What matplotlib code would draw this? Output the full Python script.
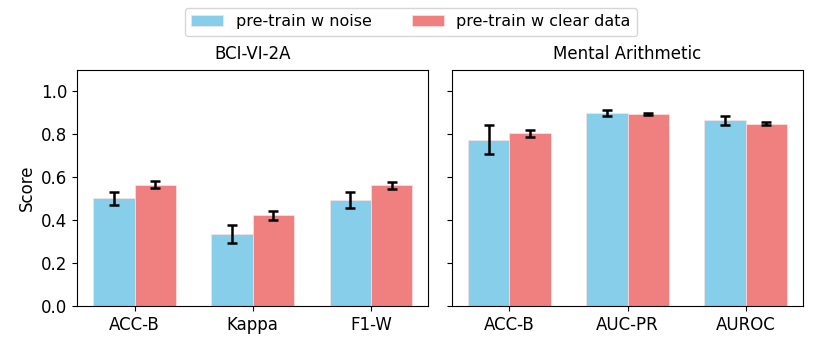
import matplotlib
matplotlib.use("Agg")
from matplotlib import pyplot as plt
import numpy as np

bci_labels = ["ACC-B", "Kappa", "F1-W"]
bci_noise = [0.501, 0.335, 0.493]
bci_noise_err = [0.031, 0.042, 0.038]
bci_clear = [0.566, 0.422, 0.563]
bci_clear_err = [0.015, 0.020, 0.017]

ma_labels = ["ACC-B", "AUC-PR", "AUROC"]
ma_noise = [0.775, 0.900, 0.865]
ma_noise_err = [0.067, 0.015, 0.019]
ma_clear = [0.806, 0.896, 0.850]
ma_clear_err = [0.016, 0.005, 0.008]

plt.rcParams["font.size"] = 12

w = 0.35
fig, axes = plt.subplots(1, 2, figsize=(8.22, 3.52), dpi=100, sharey=True)
fig.subplots_adjust(left=0.094, right=0.977, top=0.801, bottom=0.131, wspace=0.068)

panels = [
    (axes[0], "BCI-VI-2A", bci_labels, bci_noise, bci_noise_err, bci_clear, bci_clear_err),
    (axes[1], "Mental Arithmetic", ma_labels, ma_noise, ma_noise_err, ma_clear, ma_clear_err),
]
for ax, title, labels, n, ne, c, ce in panels:
    x = np.arange(len(labels))
    ax.bar(x - w / 2, n, w, yerr=ne, capsize=3.5, color="skyblue", edgecolor="#fbe3e3",
           linewidth=0.5, error_kw=dict(elinewidth=1.8, capthick=1.8), label="pre-train w noise")
    ax.bar(x + w / 2, c, w, yerr=ce, capsize=3.5, color="lightcoral", edgecolor="#fbe3e3",
           linewidth=0.5, error_kw=dict(elinewidth=1.8, capthick=1.8), label="pre-train w clear data")
    ax.set_xticks(x)
    ax.set_xticklabels(labels)
    ax.set_title(title, fontsize=12, pad=8)

axes[0].set_ylim(0, 1.1)
axes[0].set_yticks([0.0, 0.2, 0.4, 0.6, 0.8, 1.0])
axes[0].set_ylabel("Score")

h, l = axes[0].get_legend_handles_labels()
fig.legend(h, l, loc="upper center", bbox_to_anchor=(0.5, 1.0), ncol=2, fontsize=11.5,
           handlelength=2.0, columnspacing=2.5)

plt.savefig("out.png")
